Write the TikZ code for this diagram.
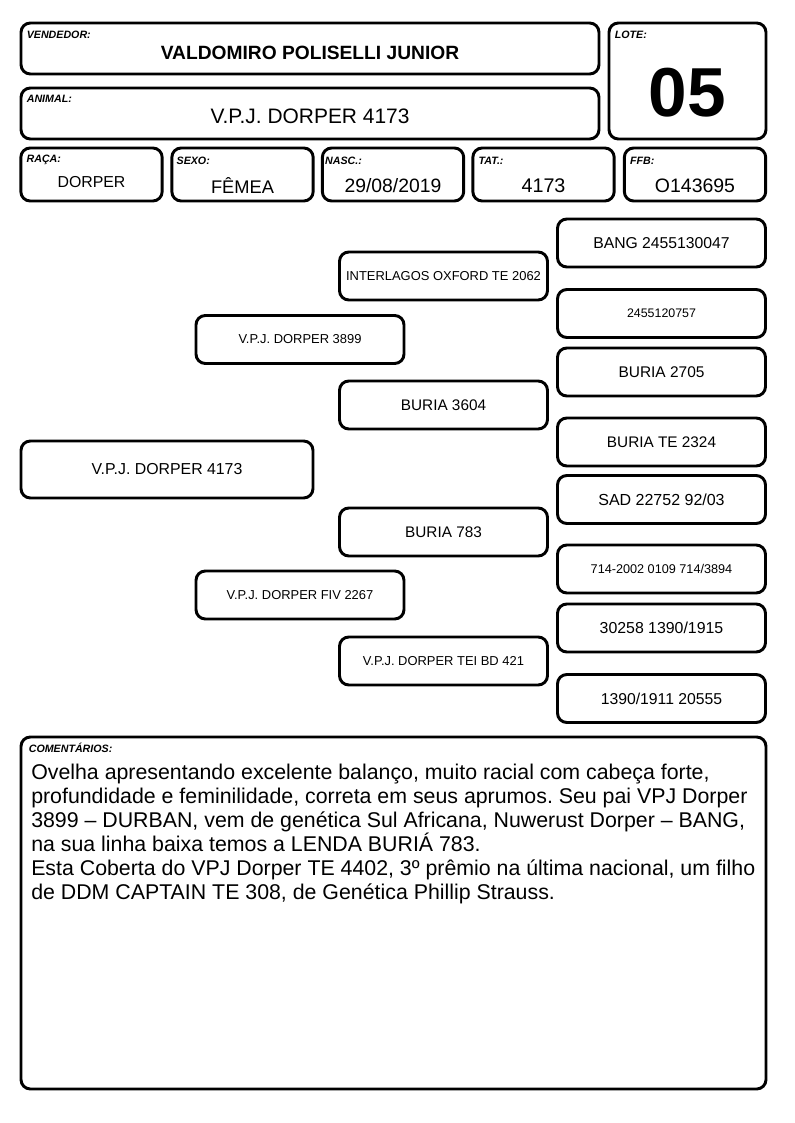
\documentclass[tikz,border=0pt]{standalone}
\usepackage{fontspec}
\setmainfont{Liberation Sans}
\usetikzlibrary{positioning}
\newcommand{\sz}[1]{\fontsize{#1pt}{#1pt}\selectfont}
\frenchspacing

\begin{document}
\begin{tikzpicture}[x=0.75pt,y=-0.75pt,
	box/.style={draw, line width=2.2pt, rounded corners=7pt, inner sep=0pt},
	pedbox/.style={box, minimum width=156pt, minimum height=36pt},
	tag/.style={anchor=north west, inner sep=0pt, font=\bfseries\itshape\sz{8}}]
	\useasboundingbox (0,0) rectangle (794,1123);

	% header fields
	\node[box, minimum width=433.5pt, minimum height=38.25pt] (vend) at (310,48.5) {};
	\node[box, minimum width=117.75pt, minimum height=87pt] (lote) at (687.5,81) {};
	\node[box, minimum width=433.5pt, minimum height=38.25pt] (animal) at (310,113.5) {};
	\node[box, minimum width=106pt, minimum height=39.75pt] (raca) at (91.5,174.5) {};
	\node[box, minimum width=106pt, minimum height=39.75pt] (sexo) at (242.5,174.5) {};
	\node[box, minimum width=106pt, minimum height=39.75pt] (nasc) at (393,174.5) {};
	\node[box, minimum width=106pt, minimum height=39.75pt] (tat) at (543.5,174.5) {};
	\node[box, minimum width=106pt, minimum height=39.75pt] (ffb) at (695,174.5) {};

	\node[tag] at ([shift={(7,9)}]vend.north west) {VENDEDOR:};
	\node[tag] at ([shift={(7,9)}]lote.north west) {LOTE:};
	\node[tag] at ([shift={(7,8)}]animal.north west) {ANIMAL:};
	\node[tag] at ([shift={(7,8)}]raca.north west) {RAÇA:};
	\node[tag] at ([shift={(6,10)}]sexo.north west) {SEXO:};
	\node[tag] at ([shift={(4,10)}]nasc.north west) {NASC.:};
	\node[tag] at ([shift={(7,10)}]tat.north west) {TAT.:};
	\node[tag] at ([shift={(7,10)}]ffb.north west) {FFB:};

	\node[font=\bfseries\sz{14.4}] (vendname) at (310,53) {VALDOMIRO POLISELLI JUNIOR};
	\node[font=\bfseries\sz{52}] (lotenum) at (687.5,93) {05};
	\node[font=\sz{15.7}] (animalname) at (310,116) {V.P.J. DORPER 4173};
	\node[font=\sz{11.9}] (racaval) at (91.5,182) {DORPER};
	\node[font=\sz{13.7}] (sexoval) at (242.5,186) {FÊMEA};
	\node[font=\sz{14.5}] (nascval) at (393,186) {29/08/2019};
	\node[font=\sz{14.8}] (tatval) at (543.5,186) {4173};
	\node[font=\sz{14.6}] (ffbval) at (695,186) {O143695};

	% pedigree
	\node[box, minimum width=219pt, minimum height=42.75pt, font=\sz{11.9}] (p0) at (167,469.5) {V.P.J. DORPER 4173};

	\node[pedbox, font=\sz{9.7}] (p1) at (300,339.5) {V.P.J. DORPER 3899};
	\node[pedbox, font=\sz{9.7}] (p2) at (300,595) {V.P.J. DORPER FIV 2267};

	\node[pedbox, font=\sz{9.7}] (p11) at (443.5,276) {INTERLAGOS OXFORD TE 2062};
	\node[pedbox, font=\sz{11.5}] (p12) at (443.5,405) {BURIA 3604};
	\node[pedbox, font=\sz{11.5}] (p21) at (443.5,532) {BURIA 783};
	\node[pedbox, font=\sz{9.7}] (p22) at (443.5,661) {V.P.J. DORPER TEI BD 421};

	\node[pedbox, font=\sz{11.8}] (p111) at (661.5,243) {BANG 2455130047};
	\node[pedbox, font=\sz{9.3}] (p112) at (661.5,313.5) {2455120757};
	\node[pedbox, font=\sz{11.6}] (p121) at (661.5,372) {BURIA 2705};
	\node[pedbox, font=\sz{11.5}] (p122) at (661.5,442) {BURIA TE 2324};
	\node[pedbox, font=\sz{12}] (p211) at (661.5,499.5) {SAD 22752 92/03};
	\node[pedbox, font=\sz{9.5}] (p212) at (661.5,569) {714-2002 0109 714/3894};
	\node[pedbox, font=\sz{11.9}] (p221) at (661.5,628) {30258 1390/1915};
	\node[pedbox, font=\sz{11.8}] (p222) at (661.5,698.5) {1390/1911 20555};

	% comments
	\node[box, minimum width=558.75pt, minimum height=264pt] (coment) at (393.5,913) {};
	\node[tag] at ([shift={(9,7)}]coment.north west) {COMENTÁRIOS:};
	\node[anchor=north west, inner sep=0pt, align=left, font=\fontsize{16pt}{17.9pt}\selectfont] (comtext) at (31,764) {Ovelha apresentando excelente balanço, muito racial com cabeça forte,\\
profundidade e feminilidade, correta em seus aprumos. Seu pai VPJ Dorper\\
3899 – DURBAN, vem de genética Sul Africana, Nuwerust Dorper – BANG,\\
na sua linha baixa temos a LENDA BURIÁ 783.\\
Esta Coberta do VPJ Dorper TE 4402, 3º prêmio na última nacional, um filho\\
de DDM CAPTAIN TE 308, de Genética Phillip Strauss.};
\end{tikzpicture}
\end{document}
